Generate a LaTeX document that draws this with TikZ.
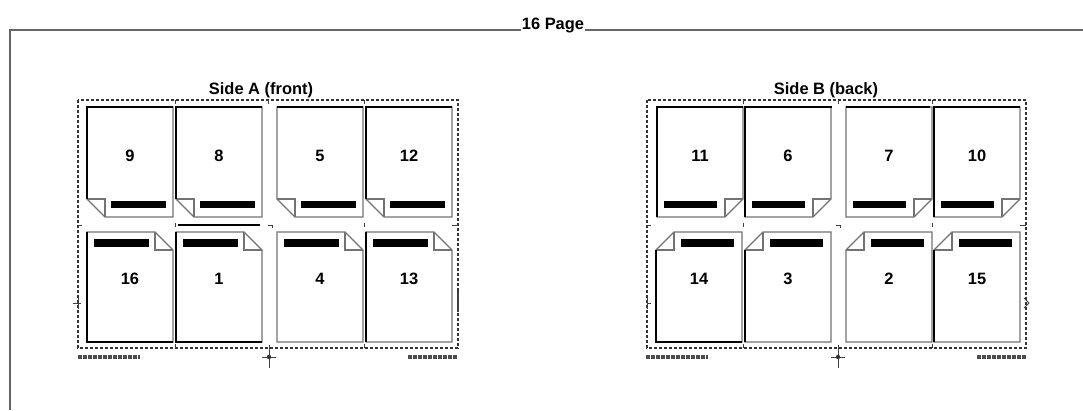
\documentclass[tikz,border=0pt]{standalone}
\usepackage{fontspec}
\setmainfont{Liberation Sans}
\tikzset{
  pageline/.style={draw=black!55, line width=1.3bp, line join=miter},
  darkedge/.style={draw=black, line width=1.5bp},
  num/.style={font=\fontsize{16.5}{16.5}\selectfont\bfseries, inner sep=0pt},
  title/.style={font=\fontsize{16.5}{16.5}\selectfont\bfseries, inner sep=1bp, anchor=base},
  frameline/.style={draw=black!60, line width=1.2bp},
  dashbox/.style={draw=black!80, line width=1.1bp, dash pattern=on 3bp off 2bp},
  hatch/.style={draw=black!70, line width=3.2bp, dash pattern=on 4bp off 1bp},
  tick/.style={draw=black!75, line width=1bp},
  bar/.style={fill=black},
}
% fold bottom-left, bar at bottom (Side A top row)
\newcommand\pgBL[3]{%
  \draw[pageline] (#1,#2) -- ++(86,0) -- ++(0,110) -- ++(-68,0) -- ++(-18,-18) -- cycle;
  \draw[pageline] (#1,#2+92) -- ++(18,0) -- ++(0,18);
  \fill[bar] (#1+24,#2+94) rectangle ++(55,7);
  \node[num] (p#3) at (#1+43,#2+49) {#3};}
% fold top-right, bar at top (Side A bottom row)
\newcommand\pgTR[3]{%
  \draw[pageline] (#1,#2) -- ++(68,0) -- ++(18,18) -- ++(0,92) -- ++(-86,0) -- cycle;
  \draw[pageline] (#1+68,#2) -- ++(0,18) -- ++(18,0);
  \fill[bar] (#1+7,#2+7) rectangle ++(55,8);
  \node[num] (p#3) at (#1+43,#2+47) {#3};}
% fold bottom-right, bar at bottom (Side B top row)
\newcommand\pgBR[3]{%
  \draw[pageline] (#1,#2) -- ++(86,0) -- ++(0,92) -- ++(-18,18) -- ++(-68,0) -- cycle;
  \draw[pageline] (#1+86,#2+92) -- ++(-18,0) -- ++(0,18);
  \fill[bar] (#1+7,#2+94) rectangle ++(53,7);
  \node[num] (p#3) at (#1+43,#2+49) {#3};}
% fold top-left, bar at top (Side B bottom row)
\newcommand\pgTL[3]{%
  \draw[pageline] (#1+18,#2) -- ++(68,0) -- ++(0,110) -- ++(-86,0) -- ++(0,-92) -- cycle;
  \draw[pageline] (#1+18,#2) -- ++(0,18) -- ++(-18,0);
  \fill[bar] (#1+25,#2+7) rectangle ++(53,8);
  \node[num] (p#3) at (#1+43,#2+47) {#3};}
\newcommand\crosshair[2]{%
  \draw[tick] (#1,#2-12) -- (#1,#2+11);
  \draw[tick] (#1-7,#2) -- (#1+7,#2);
  \fill[black!80] (#1,#2) circle (2.2bp);}
\begin{document}
\begin{tikzpicture}[x=1bp,y=-1bp]
\useasboundingbox (0,0) rectangle (1083,410);
\fill[white] (0,0) rectangle (1083,410);

% outer frame and header
\node[title] (hdr) at (553,29) {16 Page};
\coordinate (ftl) at (10,30);
\coordinate (fbl) at (10,410);
\coordinate (ftr) at (1083,30);
\draw[frameline] (fbl) -- (ftl) -- (ftl -| hdr.west);
\draw[frameline] (hdr.east |- ftl) -- (ftr);

% ---------- Side A ----------
\node[title] (tA) at (261,94) {Side A (front)};
\draw[dashbox] (78,100) rectangle (458,348);
\pgBL{87}{107}{9}
\pgBL{176}{107}{8}
\pgBL{277}{107}{5}
\pgBL{366}{107}{12}
\pgTR{87}{232}{16}
\pgTR{176}{232}{1}
\pgTR{277}{232}{4}
\pgTR{366}{232}{13}
% darker edges
\draw[darkedge] (87,217-18) -- (87,107) -- (173,107);
\draw[darkedge] (176,217-18) -- (176,107) -- (262,107);
\draw[darkedge] (277,107) -- (363,107);
\draw[darkedge] (366,217-18) -- (366,107) -- (452,107);
\draw[darkedge] (87,232) -- (87,342) -- (173,342);
\draw[darkedge] (176,232) -- (176,342) -- (262,342);
\draw[darkedge] (366,232) -- (366,342);
\draw[black, line width=1.6bp] (178,225) -- (260,225);
% crop marks
\draw[tick] (78,225) -- (82,225);
\draw[tick] (175,223) -- (175,227);
\draw[tick] (268,225) -- (272,225) -- (272,228);
\draw[tick] (364,223) -- (364,227);
\draw[tick] (452,225) -- (458,225);
\draw[tick] (175,100) -- (175,104);
\draw[tick] (268,100) -- (268,104);
\draw[tick] (364,100) -- (364,104);
\draw[tick] (175,344) -- (175,348);
\draw[tick] (364,344) -- (364,348);
\draw[tick] (73,303) -- (81,303);
\draw[tick] (78,297) -- (78,309);
\draw[black!75, line width=2bp] (458,291) -- (458,312);
\draw[hatch] (78,357) -- (140,357);
\draw[hatch] (408,357) -- (458,357);
\crosshair{269}{357}

% ---------- Side B ----------
\node[title] (tB) at (826,94) {Side B (back)};
\draw[dashbox] (647,100) rectangle (1026,348);
\pgBR{657}{107}{11}
\pgBR{745}{107}{6}
\pgBR{846}{107}{7}
\pgBR{934}{107}{10}
\pgTL{656}{232}{14}
\pgTL{745}{232}{3}
\pgTL{846}{232}{2}
\pgTL{934}{232}{15}
% darker edges
\draw[darkedge] (657,217) -- (657,107) -- (743,107);
\draw[darkedge] (745,217) -- (745,107) -- (832,107);
\draw[darkedge] (846,107) -- (930,107);
\draw[darkedge] (934,217) -- (934,107) -- (1020,107);
\draw[darkedge] (656,250) -- (656,342) -- (742,342);
\draw[darkedge] (745,250) -- (745,342);
\draw[darkedge] (934,250) -- (934,342);
% crop marks
\draw[tick] (647,225) -- (651,225);
\draw[tick] (743,223) -- (743,227);
\draw[tick] (836,225) -- (840,225) -- (840,228);
\draw[tick] (932,223) -- (932,227);
\draw[tick] (1020,225) -- (1026,225);
\draw[tick] (743,100) -- (743,104);
\draw[tick] (838,100) -- (838,104);
\draw[tick] (932,100) -- (932,104);
\draw[tick] (743,344) -- (743,348);
\draw[tick] (932,344) -- (932,348);
\draw[tick] (647,297) -- (647,309);
\draw[tick] (647,303) -- (651,303);
\draw[tick] (1024,298) -- (1029,303) -- (1024,308);
\draw[hatch] (646,357) -- (708,357);
\draw[hatch] (977,357) -- (1027,357);
\crosshair{838}{357}
\end{tikzpicture}
\end{document}
